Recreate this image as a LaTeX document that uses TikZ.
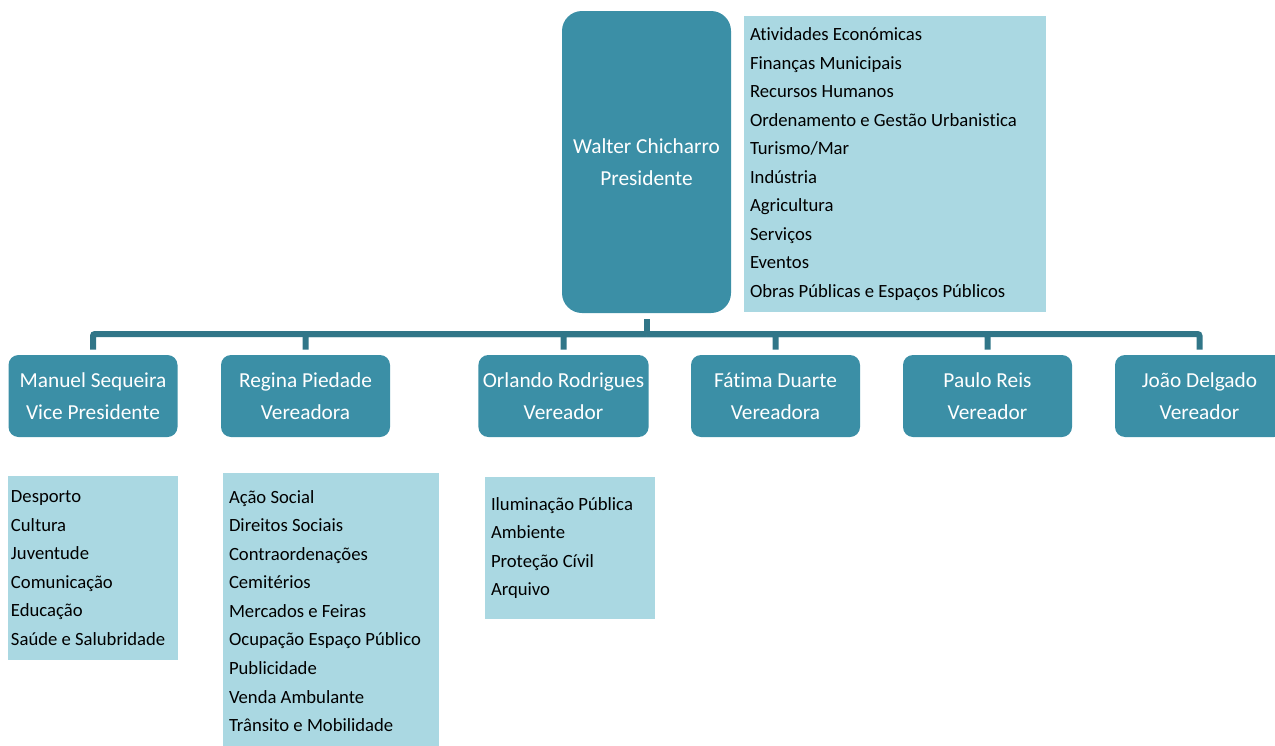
\documentclass[tikz,border=0pt]{standalone}
\usepackage{fontspec}
\setmainfont{Carlito}[Ligatures=NoCommon]
\definecolor{chiefblue}{RGB}{59,143,166}
\definecolor{barblue}{RGB}{49,118,136}
\definecolor{dutyblue}{RGB}{170,216,226}

\begin{document}
\begin{tikzpicture}[x=0.75pt, y=-0.75pt,
    chief/.style={rectangle, rounded corners=7.5pt, fill=chiefblue, text=white, align=center,
      minimum width=126.75pt, minimum height=61.5pt, font=\fontsize{16}{24}\selectfont},
    duty/.style={rectangle, fill=dutyblue, align=flush left, inner xsep=4.5pt,
      font=\fontsize{14}{21.4}\selectfont},
    link/.style={draw=barblue, line width=4.5pt}]
    \useasboundingbox (0,0) rectangle (1275,746);

    % Presidente
    \node[chief, rounded corners=15pt, minimum height=226.5pt] (walter) at (646.5,162) {Walter Chicharro\\Presidente};
    \node[duty, minimum width=226.5pt, minimum height=222pt, text width=217.5pt] (walterlist) at (895,164)
      {Atividades Económicas\\Finanças Municipais\\Recursos Humanos\\Ordenamento e Gestão Urbanistica\\Turismo/Mar\\Indústria\\Agricultura\\Serviços\\Eventos\\Obras Públicas e Espaços Públicos};

    % Vereadores
    \node[chief] (manuel) at (93,396) {Manuel Sequeira\\Vice Presidente};
    \node[chief] (regina) at (305.5,396) {Regina Piedade\\Vereadora};
    \node[chief] (orlando) at (563.5,396) {Orlando Rodrigues\\Vereador};
    \node[chief] (fatima) at (775.5,396) {Fátima Duarte\\Vereadora};
    \node[chief] (paulo) at (987.5,396) {Paulo Reis\\Vereador};
    \node[chief] (joao) at (1199.5,396) {João Delgado\\Vereador};

    % Pelouros
    \node[duty, inner xsep=2.25pt, minimum width=127.5pt, minimum height=138pt, text width=123pt] (manuellist) at (93,568)
      {Desporto\\Cultura\\Juventude\\Comunicação\\Educação\\Saúde e Salubridade};
    \node[duty, minimum width=162pt, minimum height=207pt, text width=153pt] (reginalist) at (331,611)
      {Ação Social\\Direitos Sociais\\Contraordenações\\Cemitérios\\Mercados e Feiras\\Ocupação Espaço Público\\Publicidade\\Venda Ambulante\\Trânsito e Mobilidade};
    \node[duty, minimum width=127.5pt, minimum height=106.5pt, text width=118.5pt] (orlandolist) at (570,548)
      {Iluminação Pública\\Ambiente\\Proteção Cívil\\Arquivo};

    % Ligações
    \coordinate (hub) at (646.5,334);
    \draw[link] ([yshift=-4.5pt]walter.south) -- (hub);
    \foreach \who in {manuel,regina,orlando,fatima,paulo,joao}
      \draw[link, rounded corners=1.5pt] ([yshift=3.75pt]\who.north) |- (hub);
\end{tikzpicture}
\end{document}
